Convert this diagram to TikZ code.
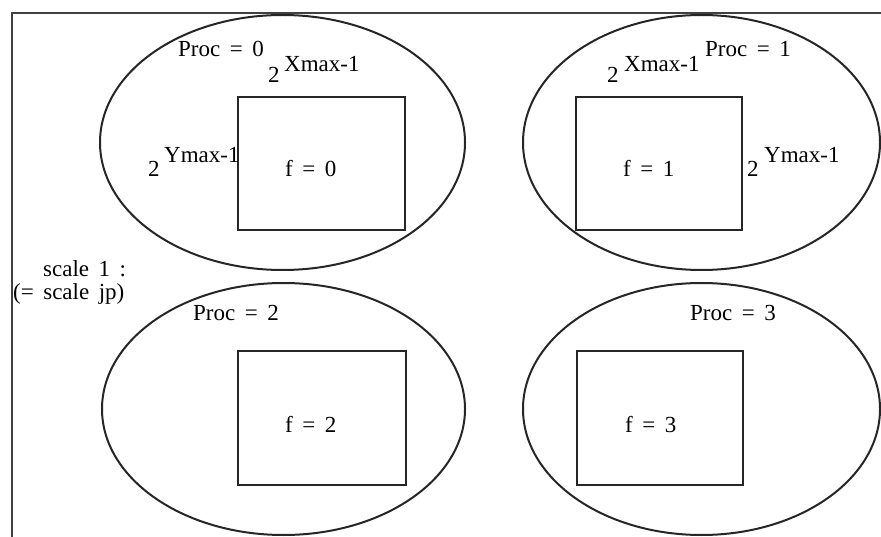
\documentclass[tikz,border=0pt]{standalone}
\usepackage{fontspec}
\setmainfont{Liberation Serif}
\usetikzlibrary{shapes.geometric}
\newcommand\mylblfont{\fontsize{23}{24}\selectfont\spaceskip 9.5pt plus 0pt minus 0pt\relax}
\begin{document}
\begin{tikzpicture}[x=1pt,y=-1pt,
  proc/.style={draw=black!85,line width=2pt,ellipse,inner sep=0pt},
  blk/.style={draw=black!85,line width=2.3pt,rectangle,inner sep=0pt},
  lbl/.style={inner sep=0pt,anchor=base west,font=\mylblfont},
]
\useasboundingbox (0,0) rectangle (881,537);
% frame
\coordinate (fbl) at (12,537);
\coordinate (ftl) at (12,13);
\coordinate (ftr) at (881,13);
\draw[line width=1.7pt,black!75] (fbl) -- (ftl) -- (ftr);

% ellipses
\node[proc,minimum width=365pt,minimum height=255pt] (e0) at (282.5,142.5) {};
\node[proc,minimum width=357pt,minimum height=255pt] (e1) at (701.5,142.5) {};
\node[proc,minimum width=363pt,minimum height=252pt] (e2) at (283.5,409) {};
\node[proc,minimum width=357pt,minimum height=252pt] (e3) at (701.5,409) {};

% rectangles
\node[blk,minimum width=167pt,minimum height=133pt] (r0) at (321.5,163.5) {};
\node[blk,minimum width=166pt,minimum height=133pt] (r1) at (659,163.5) {};
\node[blk,minimum width=168pt,minimum height=134pt] (r2) at (322,418) {};
\node[blk,minimum width=166pt,minimum height=134pt] (r3) at (660,418) {};

% labels
\node[lbl] (p0) at (178,57) {Proc = 0};
\node[lbl] (p1) at (705,57) {Proc = 1};
\node[lbl] (p2) at (193,321) {Proc = 2};
\node[lbl] (p3) at (690,321) {Proc = 3};

\node[lbl] (f0) at (285,177) {f = 0};
\node[lbl] (f1) at (623,177) {f = 1};
\node[lbl] (f2) at (285,432) {f = 2};
\node[lbl] (f3) at (625,432) {f = 3};

\node[lbl] (x0b) at (268,83) {2};
\node[lbl] (x0e) at (284,72) {Xmax-1};
\node[lbl] (y0b) at (148,177) {2};
\node[lbl] (y0e) at (164,163) {Ymax-1};
\node[lbl] (x1b) at (607,83) {2};
\node[lbl] (x1e) at (624,72) {Xmax-1};
\node[lbl] (y1b) at (747,177) {2};
\node[lbl] (y1e) at (764,163) {Ymax-1};

\node[lbl] (s1) at (43,277) {scale 1 :};
\node[lbl] (s2) at (13,300) {(= scale jp)};
\end{tikzpicture}
\end{document}
